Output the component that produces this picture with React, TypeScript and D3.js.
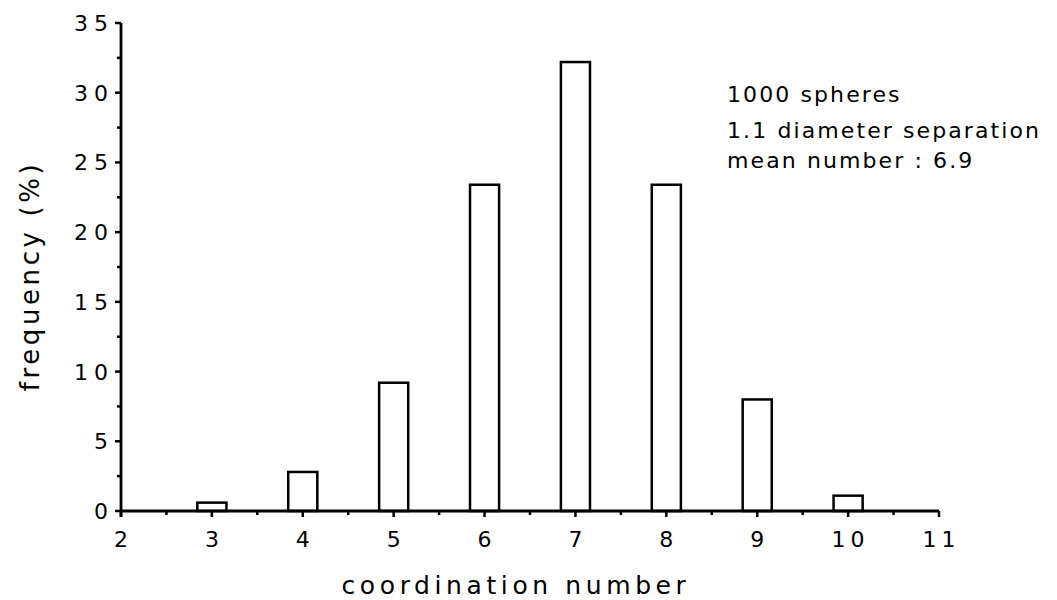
import React from "react";
import * as d3 from "d3";

const categories = [3, 4, 5, 6, 7, 8, 9, 10];
const frequencies = [0.6, 2.8, 9.2, 23.4, 32.2, 23.4, 8.0, 1.1];
const xTicks = [2, 3, 4, 5, 6, 7, 8, 9, 10, 11];
const yTicks = [0, 5, 10, 15, 20, 25, 30, 35];
const legendLines = ["1000 spheres", "1.1 diameter separation", "mean number : 6.9"];

const W = 1057;
const H = 600;
const FONT = "'DejaVu Sans', 'Liberation Sans', sans-serif";

export default function App() {
  const x = d3.scaleLinear().domain([2, 11]).range([121, 939]);
  const y = d3.scaleLinear().domain([0, 35]).range([511, 23]);
  const barW = x(2.32) - x(2);
  const xMinor = d3.range(2.5, 11, 1);
  const yMinor = d3.range(2.5, 35, 5);
  return (
    <svg width={W} height={H} style={{ position: "absolute", left: 0, top: 0, background: "#fff" }}>
      <rect x={0} y={0} width={W} height={H} fill="#fff" />
      {categories.map((c, i) => (
        <rect
          key={c}
          x={x(c) - barW / 2}
          y={y(frequencies[i])}
          width={barW}
          height={y(0) - y(frequencies[i])}
          fill="#fff"
          stroke="#000"
          strokeWidth={2.5}
        />
      ))}
      {/* axes */}
      <line x1={x(2)} x2={x(11)} y1={y(0)} y2={y(0)} stroke="#000" strokeWidth={2.8} />
      <line x1={x(2)} x2={x(2)} y1={y(0) + 6} y2={y(35)} stroke="#000" strokeWidth={2.8} />
      {xTicks.map((t) => (
        <g key={"xt" + t}>
          <line x1={x(t)} x2={x(t)} y1={y(0)} y2={y(0) + 6} stroke="#000" strokeWidth={2.5} />
          <text
            x={x(t) + (t >= 10 ? 2.5 : 0)}
            y={547}
            textAnchor="middle"
            fontFamily={FONT}
            fontSize={22}
            letterSpacing={t >= 10 ? 5 : 0}
            fill="#000"
          >
            {t}
          </text>
        </g>
      ))}
      {xMinor.map((t) => (
        <line key={"xm" + t} x1={x(t)} x2={x(t)} y1={y(0)} y2={y(0) + 4} stroke="#000" strokeWidth={2.5} />
      ))}
      {yTicks.map((t) => (
        <g key={"yt" + t}>
          <line x1={x(2) - 6} x2={x(2)} y1={y(t)} y2={y(t)} stroke="#000" strokeWidth={2.5} />
          <text
            x={114}
            y={y(t) + 8}
            textAnchor="end"
            fontFamily={FONT}
            fontSize={22}
            letterSpacing={6}
            fill="#000"
          >
            {t}
          </text>
        </g>
      ))}
      {yMinor.map((t) => (
        <line key={"ym" + t} x1={x(2) - 4} x2={x(2)} y1={y(t)} y2={y(t)} stroke="#000" strokeWidth={2.5} />
      ))}
      {/* axis labels */}
      <text
        x={516}
        y={594}
        textAnchor="middle"
        fontFamily={FONT}
        fontSize={25}
        letterSpacing={4.6}
        fill="#000"
      >
        coordination number
      </text>
      <text
        transform={`translate(39,276) rotate(-90)`}
        textAnchor="middle"
        fontFamily={FONT}
        fontSize={26}
        letterSpacing={3.6}
        fill="#000"
      >
        frequency (%)
      </text>
      {legendLines.map((l, i) => (
        <text
          key={l}
          x={727}
          y={[102, 138, 168][i]}
          fontFamily={FONT}
          fontSize={22}
          letterSpacing={2.1}
          fill="#000"
        >
          {l}
        </text>
      ))}
    </svg>
  );
}
